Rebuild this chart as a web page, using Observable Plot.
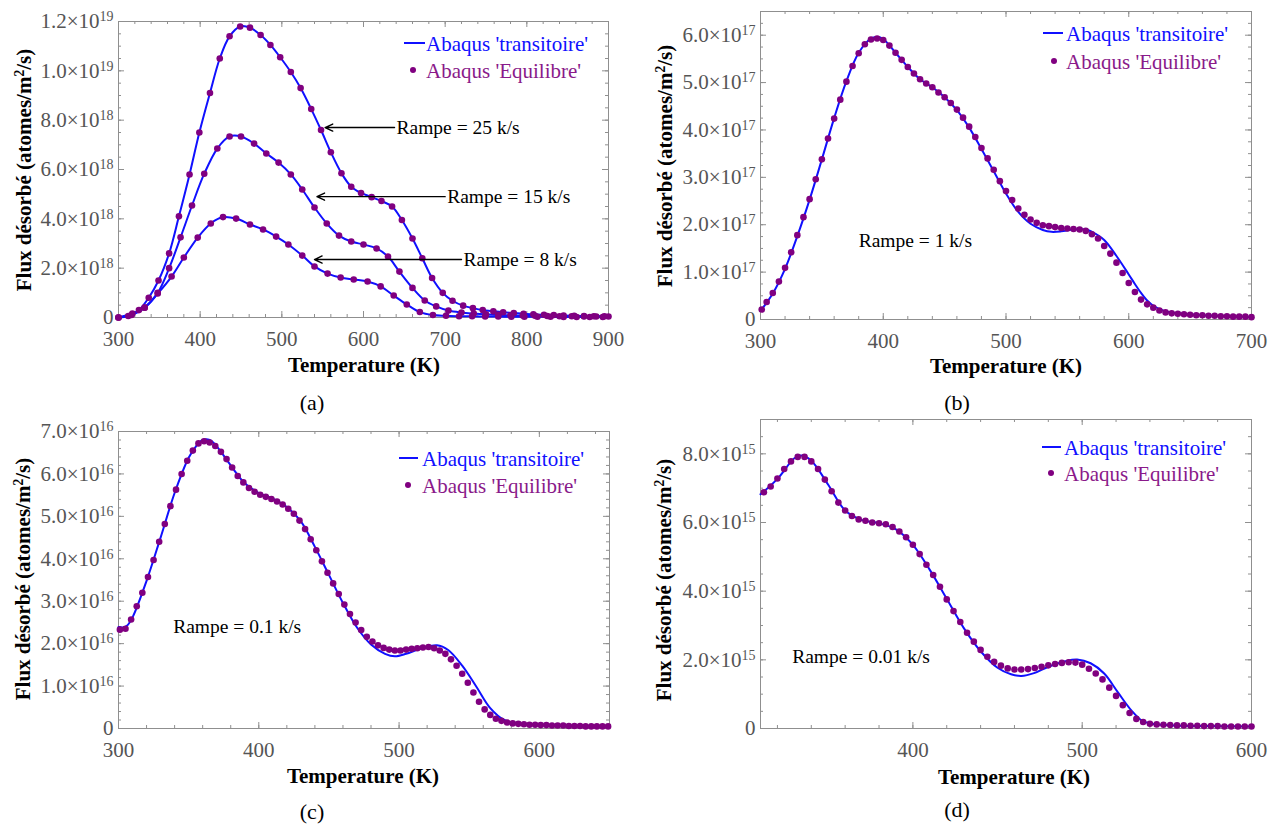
<!DOCTYPE html>
<html>
<head>
<meta charset="utf-8">
<script src="https://cdn.jsdelivr.net/npm/d3@7"></script>
<script src="https://cdn.jsdelivr.net/npm/@observablehq/plot@0.6"></script>
<style>
  body { margin: 0; background: #fff; }
  #root { position: relative; width: 1280px; height: 825px; overflow: hidden; background: #fff;
          font-family: 'Liberation Serif', 'Times New Roman', serif; }
  .lbl { position: absolute; white-space: nowrap; line-height: 1; }
  .sup { font-size: 0.65em; vertical-align: 0.5em; }
</style>
</head>
<body>
<div id="root"></div>
<script>
// ---------------- DATA ----------------
// Panel (a) : flux in units of 1e18 atomes/m2/s
const unitA = 1e18;
const tA25 = [300,312,325,337,349,362,374,387,399,412,424,436,449,461,474,486,498,511,523,536,548,560,573,585,597,610,622,635,647,660,672,684,697,709,722,734,746,759,771,784,796,808,821,833,845,858,870,882,895];
const fA25 = [0,0.06,0.3,0.8,1.5,2.6,4.1,5.8,7.5,9.1,10.5,11.4,11.8,11.75,11.45,11.05,10.55,9.95,9.3,8.45,7.6,6.7,5.85,5.3,5.05,4.88,4.72,4.5,3.95,3.2,2.4,1.6,1.0,0.68,0.48,0.38,0.3,0.25,0.21,0.18,0.15,0.13,0.11,0.1,0.08,0.07,0.06,0.05,0.05];
const tA15 = [300,316,332,348,362,376,390,405,421,436,450,466,481,496,511,525,540,555,570,585,600,616,630,644,660,675,689,704,720,735,750,765,780,795,810,825,840,855,870,885,900];
const fA15 = [0,0.1,0.4,1.0,2.0,3.25,4.54,5.83,6.85,7.34,7.34,7.05,6.65,6.28,5.8,5.19,4.46,3.81,3.32,3.08,2.96,2.8,2.47,1.86,1.2,0.69,0.45,0.28,0.2,0.16,0.13,0.11,0.09,0.08,0.07,0.06,0.05,0.05,0.04,0.04,0.04];
const tA8 = [300,317,332,348,365,380,397,413,428,444,461,477,493,508,525,540,556,572,588,605,621,637,653,669,685,701,717,733,749,765,781,797,813,829,845,861,877,893];
const fA8 = [0,0.16,0.4,0.97,1.66,2.43,3.24,3.81,4.07,4.01,3.77,3.57,3.28,2.96,2.51,2.07,1.78,1.62,1.54,1.46,1.26,0.89,0.53,0.22,0.1,0.07,0.05,0.05,0.04,0.04,0.03,0.03,0.03,0.03,0.02,0.02,0.02,0.02];
const rampeA = ["Rampe = 25 k/s", "Rampe = 15 k/s", "Rampe = 8 k/s"];
const rampeAFrom = [638, 700, 720];
const rampeATo = [553, 543, 540];
const rampeAF = [7.7, 4.9, 2.35];

// Panel (b) : units of 1e17
const unitB = 1e17;
const tBd = [301,305,310,315,320,325,330,335,340,345,350,355,360,365,370,375,380,385,390,395,400,405,410,415,420,425,430,435,440,445,450,455,460,465,470,475,480,485,490,495,500,505,510,515,520,525,530,535,540,545,550,555,560,565,570,575,580,585,590,595,600,605,610,615,620,625,630,635,640,645,650,655,660,665,670,675,680,685,690,695,700];
const fBd = [0.21,0.37,0.56,0.80,1.09,1.42,1.78,2.16,2.54,2.96,3.38,3.82,4.24,4.64,5.02,5.35,5.62,5.81,5.91,5.93,5.90,5.78,5.63,5.48,5.33,5.19,5.07,4.98,4.90,4.79,4.69,4.57,4.43,4.26,4.07,3.85,3.62,3.40,3.16,2.92,2.71,2.52,2.34,2.21,2.11,2.04,1.99,1.97,1.95,1.93,1.92,1.91,1.90,1.87,1.80,1.71,1.55,1.39,1.20,0.98,0.77,0.58,0.42,0.32,0.25,0.19,0.15,0.13,0.12,0.11,0.10,0.09,0.09,0.08,0.08,0.07,0.07,0.06,0.06,0.06,0.05];
const tBl = [300,310,320,330,340,350,360,370,380,390,395,400,410,420,430,440,450,460,470,480,490,500,510,520,530,537,545,555,565,570,580,590,600,605,610,615,620,630,640,660,680,700];
const fBl = [0.18,0.55,1.07,1.76,2.53,3.38,4.25,5.03,5.63,5.93,5.96,5.92,5.63,5.33,5.07,4.90,4.69,4.42,4.05,3.60,3.13,2.66,2.27,2.02,1.89,1.85,1.86,1.90,1.90,1.85,1.68,1.34,0.95,0.75,0.56,0.40,0.29,0.17,0.13,0.09,0.07,0.05];
const rampeB = ["Rampe = 1 k/s"], rampeBT = [380], rampeBF = [1.67];

// Panel (c) : units of 1e16
const unitC = 1e16;
const tCd = [301,305,309,313,317,321,325,329,333,337,341,345,349,353,357,361,365,369,373,377,381,385,389,393,397,401,405,409,413,417,421,425,429,433,437,441,445,449,453,457,461,465,469,473,477,481,485,489,493,497,501,505,509,513,517,521,525,529,533,537,541,545,549,553,557,561,565,569,573,577,581,585,589,593,597,601,605,609,613,617,621,625,629,633,637,641,645,649];
const fCd = [2.33,2.35,2.57,2.88,3.20,3.57,3.97,4.40,4.82,5.24,5.63,6.00,6.31,6.55,6.72,6.77,6.74,6.66,6.52,6.35,6.15,5.95,5.80,5.67,5.58,5.51,5.46,5.41,5.35,5.28,5.18,5.06,4.90,4.70,4.46,4.20,3.94,3.67,3.42,3.17,2.92,2.70,2.50,2.32,2.16,2.05,1.96,1.90,1.86,1.84,1.84,1.86,1.88,1.89,1.91,1.92,1.89,1.84,1.76,1.63,1.48,1.29,1.08,0.85,0.63,0.45,0.32,0.23,0.18,0.14,0.12,0.11,0.10,0.09,0.09,0.08,0.08,0.07,0.07,0.07,0.06,0.06,0.06,0.05,0.05,0.05,0.05,0.05];
const tCl = [300,303,306,310,320,330,340,350,355,360,365,370,380,390,400,410,420,430,440,450,460,470,480,490,497,505,515,527,535,545,555,565,575,585,600,625,650];
const fCl = [2.39,2.38,2.42,2.62,3.48,4.50,5.55,6.38,6.64,6.80,6.80,6.65,6.20,5.78,5.55,5.42,5.22,4.88,4.28,3.62,2.96,2.38,1.98,1.76,1.70,1.76,1.88,1.96,1.85,1.48,0.99,0.48,0.20,0.12,0.09,0.06,0.05];
const rampeC = ["Rampe = 0.1 k/s"], rampeCT = [339], rampeCF = [2.39];

// Panel (d) : units of 1e15
const unitD = 1e15;
const tDd = [312,316,320,324,328,332,336,340,344,348,352,356,360,364,368,372,376,380,384,388,392,396,400,404,408,412,416,420,424,428,432,436,440,444,448,452,456,460,464,468,472,476,480,484,488,492,496,500,504,508,512,516,520,524,528,532,536,540,544,548,552,556,560,564,568,572,576,580,584,588,592,596,600];
const fDd = [6.88,7.05,7.28,7.56,7.78,7.91,7.91,7.78,7.56,7.25,6.91,6.58,6.35,6.19,6.09,6.05,6.00,5.98,5.95,5.87,5.74,5.57,5.35,5.08,4.77,4.47,4.13,3.76,3.42,3.10,2.79,2.53,2.29,2.09,1.94,1.83,1.75,1.72,1.72,1.73,1.76,1.80,1.84,1.88,1.91,1.93,1.92,1.86,1.74,1.60,1.43,1.19,0.95,0.68,0.45,0.28,0.19,0.14,0.12,0.11,0.10,0.09,0.09,0.08,0.08,0.07,0.07,0.07,0.06,0.06,0.06,0.06,0.06];
const tDl = [310,320,330,334,340,350,360,370,380,390,400,410,420,430,440,450,458,464,472,480,490,497,505,513,521,529,535,542,555,575,600];
const fDl = [6.82,7.27,7.87,7.95,7.80,7.10,6.35,6.07,5.98,5.80,5.35,4.62,3.78,2.93,2.25,1.77,1.58,1.53,1.62,1.80,1.96,2.01,1.90,1.60,1.06,0.53,0.24,0.13,0.09,0.07,0.06];
const rampeD = ["Rampe = 0.01 k/s"], rampeDT = [328.7], rampeDF = [2.1];

// Legend / titles text
const legendLine = "Abaqus 'transitoire'";
const legendDots = "Abaqus 'Equilibre'";
const xTitle = "Temperature (K)";
const captions = ["(a)", "(b)", "(c)", "(d)"];

// ---------------- STYLE ----------------
const BLUE = "#1010ff", PURPLE = "#800080", PURPLE_TXT = "#8a1a8a";
const FONT = "'Liberation Serif', 'Times New Roman', serif";
const AXIS_GRAY = "#8f8f8f", TICK_TXT = "#555";

function rows(ts, fs, unit, key) { return ts.map((t, i) => ({T: t, F: fs[i] * unit, s: key})); }
function range(a, b, step) { const out = []; for (let v = a; v <= b + step * 1e-6; v += step) out.push(+v.toPrecision(12)); return out; }
function sci(v) {
  if (v === 0) return "0";
  const e = Math.floor(Math.log10(v) + 1e-9);
  return (v / Math.pow(10, e)).toFixed(1) + "×10^" + e;
}

const root = document.getElementById("root");

function panel(cfg) {
  const {left, top, W, H, ml, mr, mt, mb, xDomain, yDomain, xMajor, xMinor, yMajor, yMinor, xPad, marks} = cfg;
  const fw = W - ml - mr, fh = H - mt - mb;
  const svg = Plot.plot({
    width: W, height: H, marginLeft: ml, marginRight: mr, marginTop: mt, marginBottom: mb,
    style: {fontFamily: FONT, background: "none", overflow: "visible"},
    x: {domain: xDomain, label: null},
    y: {domain: yDomain, label: null},
    marks: [
      Plot.tickX(xMinor, {x: d => d, insetTop: fh - 3, stroke: AXIS_GRAY}),
      Plot.tickX(xMinor, {x: d => d, insetBottom: fh - 3, stroke: AXIS_GRAY}),
      Plot.tickX(xMajor, {x: d => d, insetTop: fh - 6, stroke: AXIS_GRAY}),
      Plot.tickX(xMajor, {x: d => d, insetBottom: fh - 6, stroke: AXIS_GRAY}),
      Plot.tickY(yMinor, {y: d => d, insetRight: fw - 3, stroke: AXIS_GRAY}),
      Plot.tickY(yMinor, {y: d => d, insetLeft: fw - 3, stroke: AXIS_GRAY}),
      Plot.tickY(yMajor, {y: d => d, insetRight: fw - 6, stroke: AXIS_GRAY}),
      Plot.tickY(yMajor, {y: d => d, insetLeft: fw - 6, stroke: AXIS_GRAY}),
      Plot.frame({stroke: AXIS_GRAY}),
      Plot.axisX(xMajor, {tickSize: 0, tickPadding: xPad, fontSize: 21, fill: TICK_TXT, label: null, tickFormat: d => String(d)}),
      Plot.axisY(yMajor, {tickSize: 0, tickPadding: 5, fontSize: 21, fill: TICK_TXT, label: null, tickFormat: sci}),
      ...marks
    ]
  });
  // superscript exponents in tick labels
  svg.querySelectorAll("text").forEach(t => {
    const s = t.textContent;
    if (s.includes("^")) {
      const [b, e] = s.split("^");
      t.textContent = b;
      const ts = document.createElementNS("http://www.w3.org/2000/svg", "tspan");
      ts.setAttribute("dy", "-0.5em");
      ts.setAttribute("font-size", "14");
      ts.textContent = e;
      t.appendChild(ts);
    }
  });
  svg.style.position = "absolute";
  svg.style.left = left + "px";
  svg.style.top = top + "px";
  svg.style.maxWidth = "none";
  root.appendChild(svg);
}

const lineStyle = {x: "T", y: "F", z: "s", stroke: BLUE, strokeWidth: 2, curve: "catmull-rom"};
const dotStyle = {x: "T", y: "F", r: 3.3, fill: PURPLE};
const textStyle = {x: "T", y: "F", text: "label", textAnchor: "start", fontSize: 19.5, fill: "black", fontFamily: FONT};

// Panel (a)
const dataA = [...rows(tA25, fA25, unitA, "25"), ...rows(tA15, fA15, unitA, "15"), ...rows(tA8, fA8, unitA, "8")];
const annA = rampeA.map((l, i) => ({label: l, T: rampeAFrom[i], to: rampeATo[i], F: rampeAF[i] * unitA}));
panel({
  left: 0, top: 0, W: 640, H: 360, ml: 118, mr: 32, mt: 21, mb: 43,
  xDomain: [300, 900], yDomain: [0, 1.2e19],
  xMajor: range(300, 900, 100), xMinor: range(300, 900, 20),
  yMajor: range(0, 1.2e19, 2e18), yMinor: range(0, 1.2e19, 5e17), xPad: 14,
  marks: [
    Plot.line(dataA, lineStyle),
    Plot.dot(dataA, dotStyle),
    Plot.arrow(annA, {x1: "T", y1: "F", x2: "to", y2: "F", stroke: "black", strokeWidth: 1.4, headLength: 9, headAngle: 50}),
    Plot.text(annA, {...textStyle, dx: 2})
  ]
});

// Panel (b)
const dotsB = rows(tBd, fBd, unitB, "b"), lineB = rows(tBl, fBl, unitB, "b");
panel({
  left: 640, top: 0, W: 640, H: 360, ml: 120, mr: 29, mt: 11, mb: 41,
  xDomain: [300, 700], yDomain: [0, 6.5e17],
  xMajor: range(300, 700, 100), xMinor: range(300, 700, 20),
  yMajor: range(0, 6e17, 1e17), yMinor: range(0, 6.5e17, 2.5e16), xPad: 14,
  marks: [
    Plot.line(lineB, lineStyle),
    Plot.dot(dotsB, dotStyle),
    Plot.text(rampeB.map((l, i) => ({label: l, T: rampeBT[i], F: rampeBF[i] * unitB})), textStyle)
  ]
});

// Panel (c)
const dotsC = rows(tCd, fCd, unitC, "c"), lineC = rows(tCl, fCl, unitC, "c");
panel({
  left: 0, top: 410, W: 640, H: 360, ml: 118, mr: 31, mt: 21, mb: 42,
  xDomain: [300, 650], yDomain: [0, 7e16],
  xMajor: range(300, 600, 100), xMinor: range(300, 640, 20),
  yMajor: range(0, 7e16, 1e16), yMinor: range(0, 7e16, 2e15), xPad: 14,
  marks: [
    Plot.line(lineC, lineStyle),
    Plot.dot(dotsC, dotStyle),
    Plot.text(rampeC.map((l, i) => ({label: l, T: rampeCT[i], F: rampeCF[i] * unitC})), textStyle)
  ]
});

// Panel (d)
const dotsD = rows(tDd, fDd, unitD, "d"), lineD = rows(tDl, fDl, unitD, "d");
panel({
  left: 640, top: 410, W: 640, H: 360, ml: 120, mr: 29, mt: 9, mb: 42,
  xDomain: [310, 600], yDomain: [0, 9e15],
  xMajor: range(400, 600, 100), xMinor: range(320, 600, 20),
  yMajor: range(0, 8e15, 2e15), yMinor: range(0, 9e15, 5e14), xPad: 14,
  marks: [
    Plot.line(lineD, lineStyle),
    Plot.dot(dotsD, dotStyle),
    Plot.text(rampeD.map((l, i) => ({label: l, T: rampeDT[i], F: rampeDF[i] * unitD})), textStyle)
  ]
});

// ---------------- HTML text: titles, captions, legends ----------------
function label(html, x, y, opts = {}) {
  const d = document.createElement("div");
  d.className = "lbl";
  d.innerHTML = html;
  d.style.left = x + "px";
  d.style.top = y + "px";
  d.style.fontSize = (opts.size || 21) + "px";
  d.style.fontWeight = opts.weight || "normal";
  d.style.color = opts.color || "#000";
  const tx = opts.anchor === "start" ? "0" : "-50%";
  d.style.transform = `translate(${tx}, -50%)` + (opts.rotate ? " rotate(-90deg)" : "");
  root.appendChild(d);
}
const yTitle = "Flux désorbé (atomes/m<span class='sup'>2</span>/s)";
const yTitlePos = [[24, 170], [665, 166], [23, 579], [664, 580]];
const xTitlePos = [[364, 365], [1006, 366], [363, 776], [1014, 777]];
const capPos = [[312, 403], [957, 403], [312, 812], [957, 810]];
yTitlePos.forEach(([x, y]) => label(yTitle, x, y, {weight: "bold", rotate: true}));
xTitlePos.forEach(([x, y]) => label(xTitle, x, y, {weight: "bold"}));
capPos.forEach(([x, y], i) => label(captions[i], x, y, {size: 22}));

// legends: [lineStart, lineEnd, lineY, textX, dotX, dotY]
const legendPos = [[404, 425, 43, 426, 413, 70], [1043, 1063, 33, 1066, 1054, 61], [399, 418, 458, 422, 408, 485], [1042, 1061, 447, 1064, 1051, 473]];
legendPos.forEach(([x1, x2, ly, tx, dx, dy]) => {
  const ln = document.createElement("div");
  Object.assign(ln.style, {position: "absolute", left: x1 + "px", top: (ly - 1) + "px", width: (x2 - x1) + "px", height: "2px", background: BLUE});
  root.appendChild(ln);
  const dt = document.createElement("div");
  Object.assign(dt.style, {position: "absolute", left: (dx - 3.3) + "px", top: (dy - 3.3) + "px", width: "6.6px", height: "6.6px", borderRadius: "50%", background: PURPLE});
  root.appendChild(dt);
  label(legendLine, tx, ly + 1, {anchor: "start", color: BLUE});
  label(legendDots, tx, dy + 1, {anchor: "start", color: PURPLE_TXT});
});
</script>
</body>
</html>
